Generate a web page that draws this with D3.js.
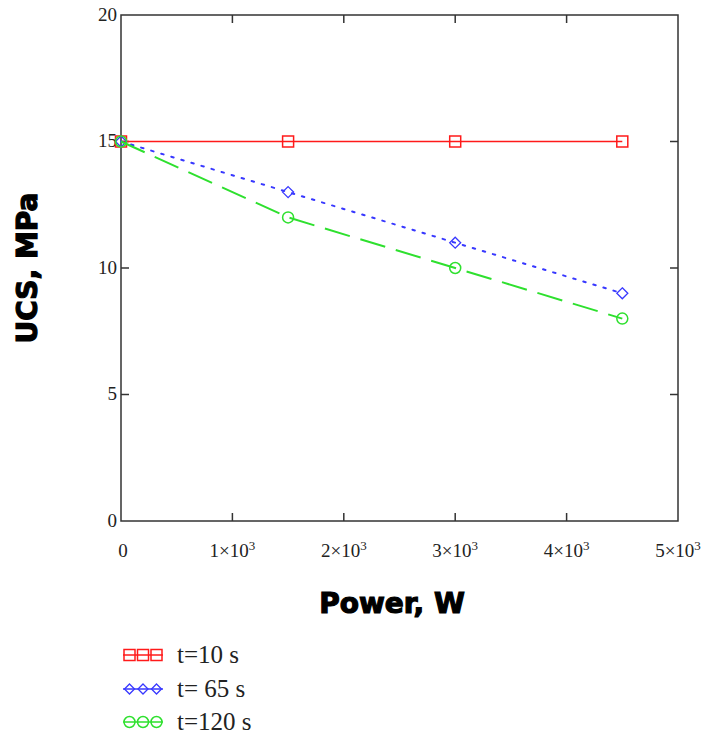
<!DOCTYPE html>
<html>
<head>
<meta charset="utf-8">
<script src="https://cdn.jsdelivr.net/npm/d3@7"></script>
<style>
  body { margin: 0; background: #fff; }
  svg { display: block; }
</style>
</head>
<body>
<svg id="chart" width="704" height="735"></svg>
<script>
const power = [0, 1500, 3000, 4500];
const ucs10 = [15, 15, 15, 15];
const ucs65 = [15, 13, 11, 9];
const ucs120 = [15, 12, 10, 8];
const xTicks = [0, 1000, 2000, 3000, 4000, 5000];
const yTicks = [0, 5, 10, 15, 20];
const seriesNames = ["t=10 s", "t= 65 s", "t=120 s"];

const svg = d3.select("#chart");
const plotLeft = 121, plotRight = 678, plotTop = 15, plotBottom = 521;

const x = d3.scaleLinear().domain([0, 5000]).range([plotLeft, plotRight]);
const y = d3.scaleLinear().domain([0, 20]).range([plotBottom, plotTop]);

const series = [
    { name: seriesNames[0], values: ucs10, color: "#ff1a1a", dash: null, marker: "square" },
    { name: seriesNames[1], values: ucs65, color: "#3838ff", dash: "2.5,8", marker: "diamond" },
    { name: seriesNames[2], values: ucs120, color: "#2ee02e", dash: "26,11", marker: "circle" }
];

// frame
svg.append("rect")
    .attr("x", plotLeft).attr("y", plotTop)
    .attr("width", plotRight - plotLeft).attr("height", plotBottom - plotTop)
    .attr("fill", "none")
    .attr("stroke", "#333")
    .attr("stroke-width", 1.5);

// inner ticks
const tickLen = 8;
const axisG = svg.append("g").attr("stroke", "#333").attr("stroke-width", 1.5);
xTicks.slice(1, -1).forEach(t => {
    axisG.append("line").attr("x1", x(t)).attr("x2", x(t)).attr("y1", plotBottom).attr("y2", plotBottom - tickLen);
    axisG.append("line").attr("x1", x(t)).attr("x2", x(t)).attr("y1", plotTop).attr("y2", plotTop + tickLen);
});
yTicks.slice(1, -1).forEach(t => {
    axisG.append("line").attr("x1", plotRight).attr("x2", plotRight - tickLen).attr("y1", y(t)).attr("y2", y(t));
    axisG.append("line").attr("x1", plotLeft).attr("x2", plotLeft + tickLen).attr("y1", y(t)).attr("y2", y(t));
});

// tick labels
const serif = "'Liberation Serif', 'Times New Roman', serif";
svg.append("g").selectAll("text")
    .data(yTicks)
    .join("text")
    .attr("x", plotLeft - 4)
    .attr("y", d => y(d))
    .attr("dy", "0.3em")
    .attr("text-anchor", "end")
    .style("font-family", serif)
    .style("font-size", "19px")
    .attr("fill", "#222")
    .text(d => d);

const xLab = svg.append("g").selectAll("text")
    .data(xTicks)
    .join("text")
    .attr("x", d => x(d) + (d === 0 ? 2 : 0))
    .attr("y", 557)
    .attr("text-anchor", "middle")
    .style("font-family", serif)
    .style("font-size", "19px")
    .attr("fill", "#222");
xLab.each(function(d) {
    const t = d3.select(this);
    if (d === 0) { t.text("0"); return; }
    t.append("tspan").text((d / 1000) + "\u00d710");
    t.append("tspan").attr("dy", "-0.55em").style("font-size", "13px").text("3");
});

// axis titles
const heavy = "'DejaVu Sans', 'Liberation Sans', Arial, sans-serif";
svg.append("text")
    .attr("x", 392).attr("y", 613)
    .attr("text-anchor", "middle")
    .style("font-family", heavy)
    .style("font-weight", "bold")
    .style("font-size", "28px")
    .attr("fill", "#000")
    .attr("stroke", "#000").attr("stroke-width", 1.2)
    .text("Power, W");

svg.append("text")
    .attr("transform", `translate(37, ${(plotTop + plotBottom) / 2}) rotate(-90)`)
    .attr("text-anchor", "middle")
    .style("font-family", heavy)
    .style("font-weight", "bold")
    .style("font-size", "28px")
    .attr("fill", "#000")
    .attr("stroke", "#000").attr("stroke-width", 1.2)
    .text("UCS, MPa");

// markers
function drawMarker(g, type, cx, cy, color, r) {
    if (type === "square") {
        g.append("rect").attr("x", cx - r).attr("y", cy - r).attr("width", 2 * r).attr("height", 2 * r)
            .attr("fill", "none").attr("stroke", color).attr("stroke-width", 1.5);
    } else if (type === "diamond") {
        g.append("path").attr("d", `M${cx},${cy - r}L${cx + r},${cy}L${cx},${cy + r}L${cx - r},${cy}Z`)
            .attr("fill", "none").attr("stroke", color).attr("stroke-width", 1.3);
    } else {
        g.append("circle").attr("cx", cx).attr("cy", cy).attr("r", r)
            .attr("fill", "none").attr("stroke", color).attr("stroke-width", 1.5);
    }
}

const line = d3.line().x(d => x(d[0])).y(d => y(d[1]));

series.forEach(s => {
    const pts = power.map((p, i) => [p, s.values[i]]);
    svg.append("path")
        .datum(pts)
        .attr("d", line)
        .attr("fill", "none")
        .attr("stroke", s.color)
        .attr("stroke-width", s.dash ? 2 : 1.5)
        .attr("stroke-linecap", s.marker === "diamond" ? "round" : "butt")
        .attr("stroke-dasharray", s.dash);
    const g = svg.append("g");
    pts.forEach(p => drawMarker(g, s.marker, x(p[0]), y(p[1]), s.color, 5.5));
});

// legend
const legendY = [655, 689, 722];
series.forEach((s, i) => {
    const g = svg.append("g");
    const cy = legendY[i];
    g.append("line").attr("x1", 123).attr("x2", 163).attr("y1", cy).attr("y2", cy)
        .attr("stroke", s.color).attr("stroke-width", 1.3);
    [129.5, 143, 156.5].forEach(cx => drawMarker(g, s.marker, cx, cy, s.color, s.marker === "diamond" ? 5 : 5.5));
    g.append("text")
        .attr("x", 177).attr("y", cy)
        .attr("dy", "0.32em")
        .style("font-family", serif)
        .style("font-size", "25px")
        .attr("fill", "#222")
        .text(s.name);
});
</script>
</body>
</html>
